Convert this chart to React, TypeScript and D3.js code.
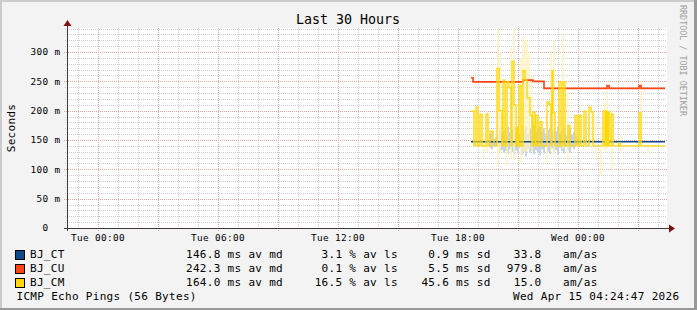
import React from "react";
import * as d3 from "d3";

// ---------- data ----------
const TITLE = "Last 30 Hours";
const Y_LABEL = "Seconds";
const X_TICK_HOURS = [0, 6, 12, 18, 24];
const X_TICK_LABELS = ["Tue 00:00", "Tue 06:00", "Tue 12:00", "Tue 18:00", "Wed 00:00"];
const Y_TICK_VALUES = [0, 50, 100, 150, 200, 250, 300];
const Y_TICK_LABELS = ["0  ", "50 m", "100 m", "150 m", "200 m", "250 m", "300 m"];

// hours since Tue 00:00, median RTT (ms), step-after
const CT_MEDIAN: [number, number][] = [
  [18.65, 147], [28.35, 147],
];
const CU_MEDIAN: [number, number][] = [
  [18.65, 256], [18.75, 249], [21.25, 252], [21.75, 250], [22.3, 238],
  [25.45, 243], [25.55, 238], [27.05, 243], [27.15, 238], [28.35, 238],
];
const CM_MEDIAN: [number, number][] = [
  [18.65, 199], [18.8, 140], [18.9, 206], [19.0, 140], [19.1, 194], [19.2, 140],
  [19.4, 194], [19.5, 140], [19.6, 165], [19.75, 150], [19.8, 140], [19.95, 272],
  [20.05, 200], [20.2, 140], [20.25, 252], [20.35, 140], [20.45, 249], [20.55, 239],
  [20.65, 140], [20.7, 284], [20.8, 210], [20.9, 140], [20.95, 172], [21.0, 140],
  [21.05, 243], [21.15, 140], [21.25, 268], [21.35, 252], [21.45, 222], [21.6, 192],
  [21.7, 140], [21.75, 198], [21.85, 140], [21.9, 192], [22.0, 140], [22.1, 181],
  [22.2, 140], [22.45, 215], [22.55, 211], [22.65, 140], [22.7, 268], [22.75, 196],
  [22.85, 140], [23.05, 249], [23.15, 140], [23.25, 249], [23.35, 140], [23.5, 175],
  [23.6, 140], [23.85, 192], [23.95, 140], [24.05, 192], [24.15, 140], [24.3, 199],
  [24.4, 140], [24.55, 206], [24.65, 198], [24.75, 140], [25.25, 199], [25.35, 140],
  [25.4, 199], [25.45, 140], [25.5, 198], [25.55, 140], [25.65, 194], [25.75, 140],
  [26.05, 145], [26.1, 140], [27.05, 196], [27.15, 140], [28.35, 140],
];

// smoke columns: [hour, low ms, high ms]
const CT_SMOKE: [number, number, number][] = [
  [19.55, 137, 160], [19.65, 134, 166], [19.75, 141, 152], [19.85, 140, 155],
  [19.95, 138, 158], [20.05, 130, 168], [20.15, 133, 162], [20.25, 128, 166],
  [20.35, 131, 170], [20.45, 126, 172], [20.55, 134, 163], [20.65, 129, 168],
  [20.75, 124, 174], [20.85, 132, 165], [20.95, 127, 171], [21.05, 136, 160],
  [21.15, 125, 176], [21.25, 130, 169], [21.35, 122, 173], [21.45, 135, 161],
  [21.55, 128, 170], [21.65, 131, 166], [21.75, 126, 175], [21.85, 133, 163],
  [21.95, 129, 168], [22.05, 124, 172], [22.15, 134, 164], [22.25, 127, 170],
  [22.35, 138, 158], [22.45, 130, 167], [22.55, 126, 171], [22.65, 136, 162],
  [22.75, 128, 169], [22.85, 133, 165], [22.95, 125, 173], [23.05, 137, 160],
  [23.15, 131, 167], [23.25, 127, 171], [23.35, 139, 158], [23.45, 132, 166],
  [23.55, 128, 170], [23.65, 138, 159], [23.75, 134, 164], [23.85, 141, 156],
  [23.95, 143, 152], [24.05, 144, 150],
];
const CM_SMOKE: [number, number, number][] = [
  [19.25, 119, 160], [19.4, 130, 200], [19.95, 104, 345], [20.05, 125, 300],
  [20.4, 107, 200], [20.6, 120, 306], [20.75, 115, 345], [21.1, 111, 290],
  [21.2, 130, 325], [21.3, 130, 320], [21.4, 130, 318], [21.5, 135, 300],
  [21.65, 130, 260], [22.4, 111, 200], [22.6, 130, 298], [22.75, 125, 320],
  [23.2, 135, 332], [23.45, 113, 230], [24.85, 116, 190], [25.1, 90, 175],
  [25.3, 130, 213], [25.4, 135, 240], [25.65, 99, 200], [26.1, 128, 160],
  [27.1, 150, 250], [27.45, 125, 150],
];

const LEGEND_NAMES = ["BJ_CT", "BJ_CU", "BJ_CM"];
const LEGEND_MEDIAN = ["146.8", "242.3", "164.0"];
const LEGEND_LOSS = ["3.1", "0.1", "16.5"];
const LEGEND_SD = ["0.9", "5.5", "45.6"];
const LEGEND_AMAS = ["33.8", "979.8", "15.0"];
const FOOTER_LEFT = "ICMP Echo Pings (56 Bytes)";
const FOOTER_RIGHT = "Wed Apr 15 04:24:47 2026";
const WATERMARK = "RRDTOOL / TOBI OETIKER";

// ---------- styles ----------
const W = 697;
const H = 310;
const PL = 67, PR = 667, PT = 28, PB = 228;
const COLORS = ["#0c4a8c", "#ff4412", "#ffd80a"];
const CT_SMOKE_COLOR = "#c9d4e1";
const CM_SMOKE_COLOR = "#fff2bd";
const FONT = "'DejaVu Sans Mono', monospace";
const ADV = 6.93; // legend char advance
const AX_ADV = 6.0;

export default function App() {
  const x = d3.scaleLinear().domain([-1.55, 28.45]).range([PL, PR]);
  const y = d3.scaleLinear().domain([0, 340.9]).range([PB, PT]);
  const cy = (v: number) => Math.round(y(v)) + 0.5;
  const cx = (h: number) => Math.round(x(h)) + 0.5;

  const line = d3
    .line<[number, number]>()
    .x((d) => x(d[0]))
    .y((d) => y(d[1]))
    .curve(d3.curveStepAfter);

  const minorX = d3.range(-1, 29, 1).filter((h) => h % 3 !== 0);
  const majorX = d3.range(0, 29, 3);
  const minorY = d3.range(10, 341, 10).filter((v) => v % 50 !== 0);
  const majorY = d3.range(50, 341, 50);

  const smokeW = x(0.1) - x(0);

  const legText = { fontFamily: FONT, fontSize: 11, letterSpacing: 0.31 } as const;
  const axText = { fontFamily: FONT, fontSize: 9.4, letterSpacing: 0.34 } as const;
  const rowBase = [258, 272, 286];

  return (
    <svg
      width={W}
      height={H}
      style={{ position: "absolute", left: 0, top: 0, display: "block" }}
      xmlSpace="preserve"
    >
      <rect x={0} y={0} width={W} height={H} fill="#f3f3f3" />
      {/* shade frame */}
      <rect x={0} y={0} width={W} height={2} fill="#cbcbcb" />
      <rect x={0} y={0} width={2} height={H} fill="#cbcbcb" />
      <rect x={0} y={H - 2} width={W} height={2} fill="#999999" />
      <rect x={W - 3} y={0} width={3} height={H} fill="#999999" />

      {/* canvas */}
      <rect x={PL} y={PT} width={PR - PL} height={PB - PT} fill="#ffffff" />

      {/* grid */}
      <g strokeDasharray="1 1" strokeWidth={1} shapeRendering="crispEdges">
        {minorY.map((v) => (
          <line key={"my" + v} x1={PL - 2} x2={PR} y1={cy(v)} y2={cy(v)} stroke="#cfcfcf" />
        ))}
        {minorX.map((h) => (
          <line key={"mx" + h} x1={cx(h)} x2={cx(h)} y1={PT} y2={PB + 2} stroke="#cfcfcf" />
        ))}
        {majorY.map((v) => (
          <line key={"My" + v} x1={PL - 3} x2={PR} y1={cy(v)} y2={cy(v)} stroke="#eba3a3" />
        ))}
        {majorX.map((h) => (
          <line key={"Mx" + h} x1={cx(h)} x2={cx(h)} y1={PT} y2={PB + 3} stroke="#eba3a3" />
        ))}
      </g>

      {/* smoke */}
      <g>
        {CT_SMOKE.map(([t, lo, hi], i) => (
          <rect
            key={"cts" + i}
            x={x(t)}
            width={smokeW}
            y={y(Math.min(hi, 340.9))}
            height={y(lo) - y(Math.min(hi, 340.9))}
            fill={CT_SMOKE_COLOR}
          />
        ))}
        {CM_SMOKE.map(([t, lo, hi], i) => (
          <rect
            key={"cms" + i}
            x={x(t)}
            width={smokeW}
            y={y(Math.min(hi, 340.9))}
            height={y(lo) - y(Math.min(hi, 340.9))}
            fill={CM_SMOKE_COLOR}
            opacity={0.7}
          />
        ))}
      </g>

      {/* medians */}
      <path d={line(CT_MEDIAN) || ""} fill="none" stroke={COLORS[0]} strokeWidth={1.6} />
      <path d={line(CU_MEDIAN) || ""} fill="none" stroke={COLORS[1]} strokeWidth={1.6} />
      <path d={line(CM_MEDIAN) || ""} fill="none" stroke={COLORS[2]} strokeWidth={1.4} />

      {/* axes */}
      <g stroke="#403838" strokeWidth={1} shapeRendering="crispEdges">
        <line x1={PL - 3} x2={PR + 3} y1={PB + 0.5} y2={PB + 0.5} />
        <line x1={PL + 0.5} x2={PL + 0.5} y1={PB + 3} y2={PT - 3} />
      </g>
      <path d={`M${PR + 2},${PB - 3.5} L${PR + 8},${PB + 0.5} L${PR + 2},${PB + 4.5} Z`} fill="#7f1010" />
      <path d={`M${PL - 3.5},${PT - 2} L${PL + 0.5},${PT - 8} L${PL + 4.5},${PT - 2} Z`} fill="#7f1010" />

      {/* title */}
      <text x={348} y={24} textAnchor="middle" fontFamily={FONT} fontSize={13.3}>
        {TITLE}
      </text>

      {/* y label */}
      <text
        transform={`translate(15,128) rotate(-90)`}
        textAnchor="middle"
        {...legText}
      >
        {Y_LABEL}
      </text>

      {/* y tick labels */}
      {Y_TICK_VALUES.map((v, i) => (
        <text
          key={"yl" + v}
          x={60.5 - Y_TICK_LABELS[i].length * AX_ADV}
          y={y(v) + 3.4}
          {...axText}
        >
          {Y_TICK_LABELS[i]}
        </text>
      ))}

      {/* x tick labels */}
      {X_TICK_HOURS.map((h, i) => (
        <text key={"xl" + h} x={x(h)} y={241} textAnchor="middle" {...axText}>
          {X_TICK_LABELS[i]}
        </text>
      ))}

      {/* legend */}
      {LEGEND_NAMES.map((n, i) => {
        const b = rowBase[i];
        const endAt = (s: string, e: number) => e - s.length * ADV;
        return (
          <g key={n}>
            <rect x={15.5} y={b - 7.5} width={9} height={9} fill={COLORS[i]} stroke="#000" strokeWidth={1} />
            <text x={30} y={b} {...legText}>{n}</text>
            <text x={186} y={b} {...legText}>{LEGEND_MEDIAN[i] + " ms av md"}</text>
            <text x={endAt(LEGEND_LOSS[i], 342.4)} y={b} {...legText}>{LEGEND_LOSS[i]}</text>
            <text x={349.3} y={b} {...legText}>{"% av ls"}</text>
            <text x={endAt(LEGEND_SD[i], 449.1)} y={b} {...legText}>{LEGEND_SD[i]}</text>
            <text x={456} y={b} {...legText}>{"ms sd"}</text>
            <text x={endAt(LEGEND_AMAS[i], 541.5)} y={b} {...legText}>{LEGEND_AMAS[i]}</text>
            <text x={563} y={b} {...legText}>{"am/as"}</text>
          </g>
        );
      })}
      <text x={16.5} y={300} {...legText}>{FOOTER_LEFT}</text>
      <text x={513} y={300} {...legText}>{FOOTER_RIGHT}</text>

      {/* watermark */}
      <text
        transform="translate(686.5,5) rotate(90)"
        fontFamily={FONT}
        fontSize={8.4}
        fill="#a0a0a0"
        dominantBaseline="hanging"
      >
        {WATERMARK}
      </text>
    </svg>
  );
}
